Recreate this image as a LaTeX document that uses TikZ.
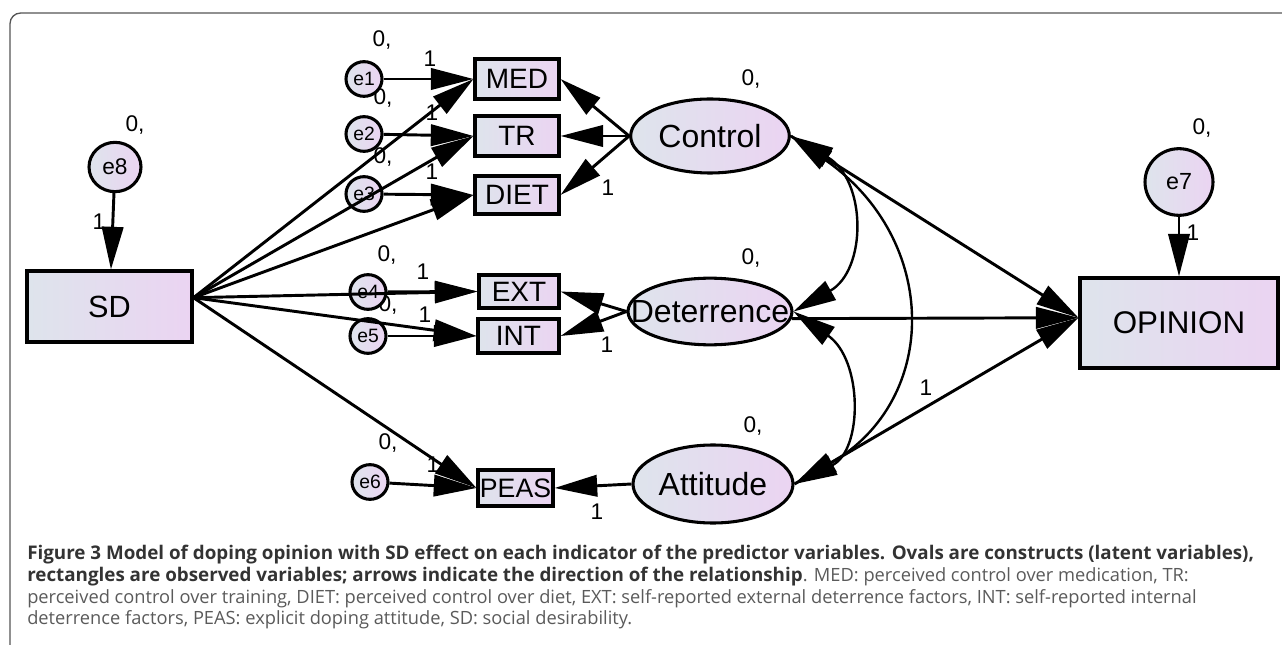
\documentclass[tikz,border=0pt]{standalone}
\usepackage{fontspec}
\setmainfont{Liberation Sans}
\newfontfamily\capfont{Open Sans}
\usetikzlibrary{arrows.meta,shapes.geometric}
\definecolor{fillL}{HTML}{DEE4EC}
\definecolor{fillR}{HTML}{EBD4F2}
\definecolor{framegray}{HTML}{555555}
\definecolor{capdark}{HTML}{333333}
\definecolor{capgray}{HTML}{5A5A5A}

\begin{document}
\begin{tikzpicture}[x=0.75pt,y=-0.75pt,
  obs/.style={draw,line width=2.3pt,rectangle,left color=fillL,right color=fillR,inner sep=0pt,font=\fontsize{21}{21}\selectfont},
  lat/.style={draw,line width=2.3pt,ellipse,left color=fillL,right color=fillR,inner sep=0pt,
    label={[font=\fontsize{24}{24}\selectfont]center:#1}},
  err/.style={draw,line width=2.3pt,ellipse,left color=fillL,right color=fillR,inner sep=0pt,
    minimum width=27pt,minimum height=26pt,font=\fontsize{14.5}{14.5}\selectfont},
  reg/.style={line width=2.2pt,-{Triangle[length=32pt,width=16pt]}},
  cov/.style={line width=1.8pt,{Triangle[length=32pt,width=16pt]}-{Triangle[length=32pt,width=16pt]}},
  num/.style={font=\fontsize{17}{17}\selectfont,inner sep=0pt}]
\useasboundingbox (0,0) rectangle (1282,645);
% frame round the figure
\draw[framegray,line width=1pt,rounded corners=8pt] (10,645) -- (10,13) -- (1282,13);

% intercepts and fixed weights
\node[num] at (135,125) {0,};
\node[num] at (99,222) {1};
\node[num] at (382,40) {0,};
\node[num] at (430,59) {1};
\node[num] at (383,98) {0,};
\node[num] at (432,113) {1};
\node[num] at (383,157) {0,};
\node[num] at (432,172) {1};
\node[num] at (387,255) {0,};
\node[num] at (423,272) {1};
\node[num] at (388,305) {0,};
\node[num] at (425,315) {1};
\node[num] at (388,443) {0,};
\node[num] at (433,465) {1};
\node[num] at (751,79) {0,};
\node[num] at (608,188) {1};
\node[num] at (751,258) {0,};
\node[num] at (607,345) {1};
\node[num] at (753,426) {0,};
\node[num] at (597,512) {1};
\node[num] at (1202,128) {0,};
\node[num] at (1193,233) {1};
\node[num] at (926,388) {1};

% observed variables
\node[obs,minimum width=123.75pt,minimum height=53.25pt,font=\fontsize{23}{23}\selectfont] (SD) at (109.5,306.5) {SD};
\node[obs,minimum width=63pt,minimum height=30pt] (MED) at (517,79) {MED};
\node[obs,minimum width=63pt,minimum height=30pt] (TR) at (517,136) {TR};
\node[obs,minimum width=63pt,minimum height=28.5pt] (DIET) at (517,195) {DIET};
\node[obs,minimum width=60pt,minimum height=24.75pt] (EXT) at (519,291.5) {EXT};
\node[obs,minimum width=60.75pt,minimum height=25.5pt] (INT) at (518.5,336) {INT};
\node[obs,minimum width=56.25pt,minimum height=27pt,font=\fontsize{20}{20}\selectfont] (PEAS) at (515.5,488) {PEAS};
\node[obs,minimum width=148.5pt,minimum height=67.5pt,font=\fontsize{23.5}{23.5}\selectfont] (OPINION) at (1179,323) {OPINION};

% latent variables
\node[lat=Control,minimum width=119pt,minimum height=55.5pt] (Control) at (710,136) {};
\node[lat=Deterrence,minimum width=123pt,minimum height=50pt] (Deterrence) at (710,311.5) {};
\node[lat=Attitude,minimum width=120pt,minimum height=58.5pt] (Attitude) at (713,484) {};

% error terms
\node[err] (e1) at (364,79) {e1};
\node[err] (e2) at (364,134) {e2};
\node[err] (e3) at (364,194) {e3};
\node[err] (e4) at (368,292) {e4};
\node[err] (e5) at (368,336) {e5};
\node[err] (e6) at (370,482) {e6};
\node[err,minimum width=39pt,minimum height=37pt,font=\fontsize{17}{17}\selectfont] (e8) at (115,167) {e8};
\node[err,minimum width=51pt,minimum height=50pt,font=\fontsize{17.5}{17.5}\selectfont] (e7) at (1179,182) {e7};

% residual paths
\draw[reg] (e8) -- (SD);
\draw[reg] (e7) -- (OPINION);
\draw[reg] (e1) -- (MED.west);
\draw[reg] (e2) -- (TR.west);
\draw[reg] (e3) -- (DIET.west);
\draw[reg] (e4) -- (EXT.west);
\draw[reg] (e5) -- (INT.west);
\draw[reg] (e6) -- (PEAS.west);
% SD effect on every indicator
\foreach \ind in {MED,TR,DIET,EXT,INT,PEAS}
  \draw[reg] (SD.6) -- (\ind.west);
% loadings
\draw[reg] (Control.west) -- (MED.east);
\draw[reg] (Control.west) -- (TR.east);
\draw[reg] (Control.west) -- (DIET.east);
\draw[reg] (Deterrence.west) -- (EXT.east);
\draw[reg] (Deterrence.west) -- (INT.east);
\draw[reg] (Attitude.west) -- (PEAS.east);
% predictors of opinion
\draw[reg] (Control.east) -- (OPINION.177);
\draw[reg] (Deterrence.-5) -- (OPINION.177);
\draw[reg] (Attitude.east) -- (OPINION.177);
% covariances
\draw[cov] (Control.east) .. controls (867,180) and (867,270) .. (Deterrence.east);
\draw[cov] (Deterrence.east) .. controls (863,360) and (863,450) .. (Attitude.east);
\draw[cov] (Control.east) .. controls (940,240) and (940,400) .. (Attitude.east);

% caption
\node[anchor=west,inner sep=0pt,text=capdark,font=\capfont\fontsize{14.1}{19}\selectfont\bfseries] (cap1) at (27,555)
  {Figure 3 Model of doping opinion with SD effect on each indicator of the predictor variables. Ovals are constructs (latent variables),};
\node[anchor=west,inner sep=0pt,text=capdark,font=\capfont\fontsize{14.1}{19}\selectfont] (cap2) at (27,577)
  {\textbf{rectangles are observed variables; arrows indicate the direction of the relationship}\textcolor{capgray}{\fontsize{13.7}{19}\selectfont. MED: perceived control over medication, TR:}};
\node[anchor=west,inner sep=0pt,text=capgray,font=\capfont\fontsize{13.7}{19}\selectfont] (cap3) at (27,599)
  {perceived control over training, DIET: perceived control over diet, EXT: self-reported external deterrence factors, INT: self-reported internal};
\node[anchor=west,inner sep=0pt,text=capgray,font=\capfont\fontsize{13.7}{19}\selectfont] (cap4) at (27,620)
  {deterrence factors, PEAS: explicit doping attitude, SD: social desirability.};
\end{tikzpicture}
\end{document}
